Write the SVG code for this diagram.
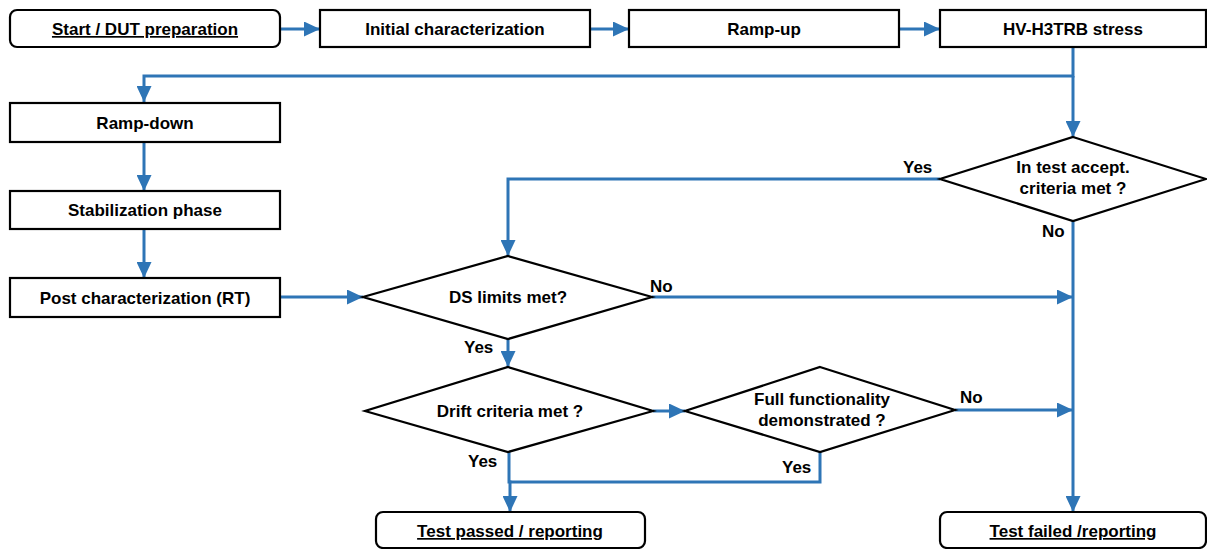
<svg xmlns="http://www.w3.org/2000/svg" width="1207" height="549" viewBox="0 0 1207 549">
<style>
.box{fill:#fff;stroke:#000;stroke-width:2.2}
.t{font-family:"Liberation Sans",Arial,sans-serif;font-weight:bold;font-size:17px;fill:#000;text-anchor:middle}
.l{font-family:"Liberation Sans",Arial,sans-serif;font-weight:bold;font-size:17px;fill:#000}
.u{text-decoration:underline}
.c{fill:none;stroke:#2E75B6;stroke-width:3}
</style>
<defs>
<marker id="ah" markerUnits="userSpaceOnUse" markerWidth="16" markerHeight="15" refX="16" refY="7.5" orient="auto">
<path d="M0,0 L16,7.5 L0,15 z" fill="#2E75B6"/>
</marker>
</defs>
<g id="connectors">
<path class="c" d="M280,29 H320" marker-end="url(#ah)"/>
<path class="c" d="M590,29 H629" marker-end="url(#ah)"/>
<path class="c" d="M899,29 H940" marker-end="url(#ah)"/>
<path class="c" d="M1073,47 V76 H144 V102" marker-end="url(#ah)"/>
<path class="c" d="M1073,76 V137" marker-end="url(#ah)"/>
<path class="c" d="M144,142 V191" marker-end="url(#ah)"/>
<path class="c" d="M144,229 V278" marker-end="url(#ah)"/>
<path class="c" d="M280,297 H363" marker-end="url(#ah)"/>
<path class="c" d="M940,179 H508 V256" marker-end="url(#ah)"/>
<path class="c" d="M1073,221 V512" marker-end="url(#ah)"/>
<path class="c" d="M652,297 H1073" marker-end="url(#ah)"/>
<path class="c" d="M508,339 V367" marker-end="url(#ah)"/>
<path class="c" d="M653,411 H685" marker-end="url(#ah)"/>
<path class="c" d="M955,410 H1073" marker-end="url(#ah)"/>
<path class="c" d="M509,452 V482 H510 V512" marker-end="url(#ah)"/>
<path class="c" d="M820,452 V482 H510"/>
</g>
<g id="start"><rect class="box" x="10" y="10" width="270" height="37" rx="7"/><text class="t u" x="145" y="35">Start / DUT preparation</text></g>
<g id="initial"><rect class="box" x="320" y="10" width="270" height="37"/><text class="t" x="455" y="35">Initial characterization</text></g>
<g id="rampup"><rect class="box" x="629" y="10" width="270" height="37"/><text class="t" x="764" y="35">Ramp-up</text></g>
<g id="hv"><rect class="box" x="940" y="10" width="266" height="37"/><text class="t" x="1073" y="35">HV-H3TRB stress</text></g>
<g id="rampdown"><rect class="box" x="10" y="103" width="270" height="39"/><text class="t" x="145" y="129">Ramp-down</text></g>
<g id="stab"><rect class="box" x="10" y="191" width="270" height="38"/><text class="t" x="145" y="216">Stabilization phase</text></g>
<g id="post"><rect class="box" x="10" y="278" width="270" height="39"/><text class="t" x="145" y="304">Post characterization (RT)</text></g>
<g id="intest"><polygon class="box" points="1073,137 1206,179 1073,221 940,179"/><text class="t" x="1073" y="173">In test accept.</text><text class="t" x="1073" y="194">criteria met ?</text><text class="l" x="903" y="173">Yes</text><text class="l" x="1042" y="237">No</text></g>
<g id="ds"><polygon class="box" points="508,256 652,297 508,339 363,297"/><text class="t" x="508" y="303">DS limits met?</text><text class="l" x="650" y="292">No</text><text class="l" x="464" y="353">Yes</text></g>
<g id="drift"><polygon class="box" points="508,367 653,411 508,452 365,411"/><text class="t" x="510" y="417">Drift criteria met ?</text><text class="l" x="468" y="467">Yes</text></g>
<g id="full"><polygon class="box" points="820,367 955,410 820,452 685,411"/><text class="t" x="822" y="405">Full functionality</text><text class="t" x="822" y="426">demonstrated ?</text><text class="l" x="960" y="403">No</text><text class="l" x="782" y="473">Yes</text></g>
<g id="passed"><rect class="box" x="376" y="512" width="269" height="36" rx="7"/><text class="t u" x="510" y="537">Test passed / reporting</text></g>
<g id="failed"><rect class="box" x="940" y="512" width="266" height="36" rx="7"/><text class="t u" x="1073" y="537">Test failed /reporting</text></g>
</svg>
